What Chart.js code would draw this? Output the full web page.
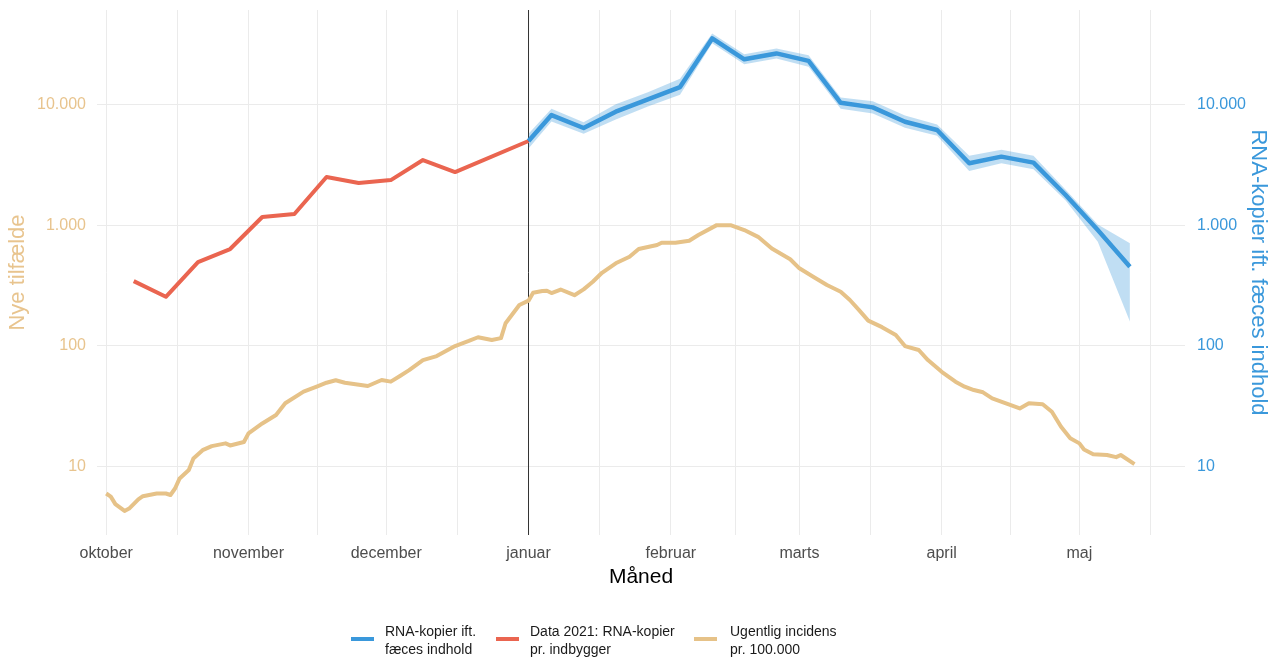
<!DOCTYPE html>
<html><head><meta charset="utf-8">
<script src="https://cdn.jsdelivr.net/npm/chart.js@4/dist/chart.umd.min.js"></script>
<style>html,body{margin:0;padding:0;background:#fff;}</style>
</head><body>
<canvas id="c" width="1277" height="660"></canvas>
<script>
// ---- data (x = days since 1 October) ----
const monthTickDays = [0, 31, 61, 92, 123, 151, 182, 212];
const monthLabels = ['oktober', 'november', 'december', 'januar', 'februar', 'marts', 'april', 'maj'];
const minorTickDays = [15.5, 46, 76.5, 107.5, 137, 166.5, 197, 227.5];
const yTickValues = [10, 100, 1000, 10000];
const yTickLabels = ['10', '100', '1.000', '10.000'];

const rnaDays   = [92, 97, 104, 111, 118, 125, 132, 139, 146, 153, 160, 167, 174, 181, 188, 195, 202, 209, 216, 223];
const rnaValues = [4970, 8150, 6370, 8700, 11000, 13900, 35100, 23600, 26400, 22900, 10300, 9440, 7180, 6130, 3250, 3690, 3290, 1775, 910, 453];
const rnaLower  = [4300, 7200, 5700, 7500, 9600, 12000, 32000, 21500, 24000, 20500, 9200, 8400, 6400, 5500, 2800, 3250, 2900, 1600, 730, 159];
const rnaUpper  = [5700, 9200, 7100, 10000, 12600, 16300, 38500, 26000, 29000, 25500, 11400, 10600, 8100, 6800, 3750, 4200, 3750, 1960, 1010, 708];

const data2021Days   = [6, 13, 20, 27, 34, 41, 48, 55, 62, 69, 76, 92];
const data2021Values = [344, 255, 494, 634, 1167, 1236, 2500, 2235, 2360, 3460, 2750, 4970];

const incDays = [0, 1, 2, 4, 5, 7, 8, 11, 13, 14, 15, 16, 18, 19, 21, 23, 26, 27, 30, 31, 34, 37, 39, 43, 46, 48, 50, 52, 57, 60, 62, 64, 66, 69, 72, 76, 79, 81, 84, 86, 87, 90, 92, 93, 95, 96, 97, 99, 102, 104, 106, 108, 111, 114, 116, 120, 121, 124, 127, 129, 133, 136, 139, 142, 145, 149, 151, 154, 157, 160, 162, 164, 166, 169, 172, 174, 177, 179, 182, 185, 187, 189, 191, 193, 196, 199, 201, 204, 206, 208, 210, 212, 213, 215, 218, 220, 221, 224];
const incValues = [6.0, 5.65, 4.9, 4.3, 4.5, 5.37, 5.7, 6.0, 6.0, 5.83, 6.6, 8.0, 9.4, 11.7, 13.7, 14.8, 15.6, 15.0, 16.0, 18.9, 22.8, 26.8, 33.5, 41.8, 46.2, 49.6, 52.0, 49.6, 46.6, 52.2, 50.6, 56.4, 63, 76.3, 82.4, 99.7, 110, 118, 112, 116, 154, 218, 237, 276, 285, 286, 274, 293, 263, 294, 340, 403, 483, 548, 634, 684, 714, 714, 742, 828, 1000, 1000, 910, 800, 641, 522, 439, 374, 319, 281, 240, 198, 162, 143, 123, 99.7, 92.5, 76.4, 61.1, 50.6, 46, 43.1, 41.3, 36.8, 33.5, 30.4, 33.5, 32.9, 28.5, 21.4, 17.2, 15.6, 13.9, 12.7, 12.5, 12.0, 12.5, 10.5];

const januarLineDay = 92;
const xMin = -2, xMax = 235;
const yMin = 2.72, yMax = 60400;

const legendItems = [
  { color: '#3A98DB', lines: ['RNA-kopier ift.', 'fæces indhold'] },
  { color: '#EA6550', lines: ['Data 2021: RNA-kopier', 'pr. indbygger'] },
  { color: '#E6C288', lines: ['Ugentlig incidens', 'pr. 100.000'] }
];

// ---- build ----
const zip = (xs, ys) => xs.map((x, i) => ({ x: x, y: ys[i] }));
const FONT = "'Liberation Sans', Arial, sans-serif";
const BLUE = '#3A98DB', RED = '#EA6550', TAN = '#E6C288';

const legendPlugin = {
  id: 'bottomLegend',
  afterDraw(chart) {
    const ctx = chart.ctx;
    const keyX = [351, 496, 694];
    const textX = [385, 530, 730];
    ctx.save();
    ctx.font = '14px ' + FONT;
    ctx.textBaseline = 'middle';
    ctx.textAlign = 'left';
    legendItems.forEach((it, i) => {
      ctx.strokeStyle = it.color;
      ctx.lineWidth = 4;
      ctx.beginPath();
      ctx.moveTo(keyX[i], 639);
      ctx.lineTo(keyX[i] + 23, 639);
      ctx.stroke();
      ctx.fillStyle = '#1a1a1a';
      it.lines.forEach((ln, j) => ctx.fillText(ln, textX[i], 632 + j * 18));
    });
    ctx.restore();
  }
};

const allXTicks = monthTickDays.concat(minorTickDays).sort((a, b) => a - b);

new Chart(document.getElementById('c'), {
  type: 'line',
  data: {
    datasets: [
      { label: 'RNA-kopier ift. fæces indhold', data: zip(rnaDays, rnaValues), borderColor: BLUE, borderWidth: 4.5, pointRadius: 0, fill: false, order: 0, borderJoinStyle: 'round' },
      { label: 'upper', data: zip(rnaDays, rnaUpper), borderWidth: 0, borderColor: 'rgba(0,0,0,0)', pointRadius: 0, fill: '+1', backgroundColor: 'rgba(58,152,219,0.32)', order: 1 },
      { label: 'lower', data: zip(rnaDays, rnaLower), borderWidth: 0, borderColor: 'rgba(0,0,0,0)', pointRadius: 0, fill: false, order: 2 },
      { label: 'Data 2021: RNA-kopier pr. indbygger', data: zip(data2021Days, data2021Values), borderColor: RED, borderWidth: 4, pointRadius: 0, fill: false, order: 3, borderJoinStyle: 'round' },
      { label: 'Ugentlig incidens pr. 100.000', data: zip(incDays, incValues), borderColor: TAN, borderWidth: 4, pointRadius: 0, fill: false, order: 4, borderJoinStyle: 'round' },
      { label: 'januar', data: [{ x: januarLineDay, y: yMin }, { x: januarLineDay, y: yMax }], borderColor: '#333333', borderWidth: 1, pointRadius: 0, fill: false, order: 5 }
    ]
  },
  options: {
    responsive: false,
    animation: false,
    devicePixelRatio: 1,
    layout: { padding: { left: 0, right: 0, top: 10, bottom: 65 } },
    plugins: { legend: { display: false }, tooltip: { enabled: false } },
    elements: { line: { tension: 0 } },
    scales: {
      x: {
        type: 'linear', min: xMin, max: xMax,
        afterBuildTicks: s => { s.ticks = allXTicks.map(v => ({ value: v })); },
        afterFit: s => { s.height = 60; s.paddingLeft = 0; s.paddingRight = 0; },
        ticks: {
          autoSkip: false, maxRotation: 0, padding: 9,
          color: '#4D4D4D', font: { family: FONT, size: 16 },
          callback: v => { const i = monthTickDays.indexOf(v); return i >= 0 ? monthLabels[i] : ''; }
        },
        grid: { color: '#EBEBEB', lineWidth: 1, drawTicks: false },
        border: { display: false },
        title: { display: true, text: 'Måned', color: '#000000', font: { family: FONT, size: 21 }, padding: { top: 0, bottom: 5 } }
      },
      y: {
        type: 'logarithmic', position: 'left', min: yMin, max: yMax,
        afterBuildTicks: s => { s.ticks = yTickValues.map(v => ({ value: v })); },
        afterFit: s => { s.width = 97; s.paddingTop = 0; s.paddingBottom = 0; },
        ticks: {
          padding: 11, color: '#E8C48E', font: { family: FONT, size: 16 },
          callback: v => { const i = yTickValues.indexOf(v); return i >= 0 ? yTickLabels[i] : ''; }
        },
        grid: { color: '#EBEBEB', lineWidth: 1, drawTicks: false },
        border: { display: false },
        title: { display: true, text: 'Nye tilfælde', color: '#E8C48E', font: { family: FONT, size: 22 }, padding: { top: 5, bottom: 0 } }
      },
      y2: {
        type: 'logarithmic', position: 'right', min: yMin, max: yMax,
        afterBuildTicks: s => { s.ticks = yTickValues.map(v => ({ value: v })); },
        afterFit: s => { s.width = 92; s.paddingTop = 0; s.paddingBottom = 0; },
        ticks: {
          padding: 12, color: BLUE, font: { family: FONT, size: 16 },
          callback: v => { const i = yTickValues.indexOf(v); return i >= 0 ? yTickLabels[i] : ''; }
        },
        grid: { display: false, drawTicks: false },
        border: { display: false },
        title: { display: true, text: 'RNA-kopier ift. fæces indhold', color: BLUE, font: { family: FONT, size: 22 }, padding: { top: 6, bottom: 0 } }
      }
    }
  },
  plugins: [legendPlugin]
});
</script>
</body></html>
